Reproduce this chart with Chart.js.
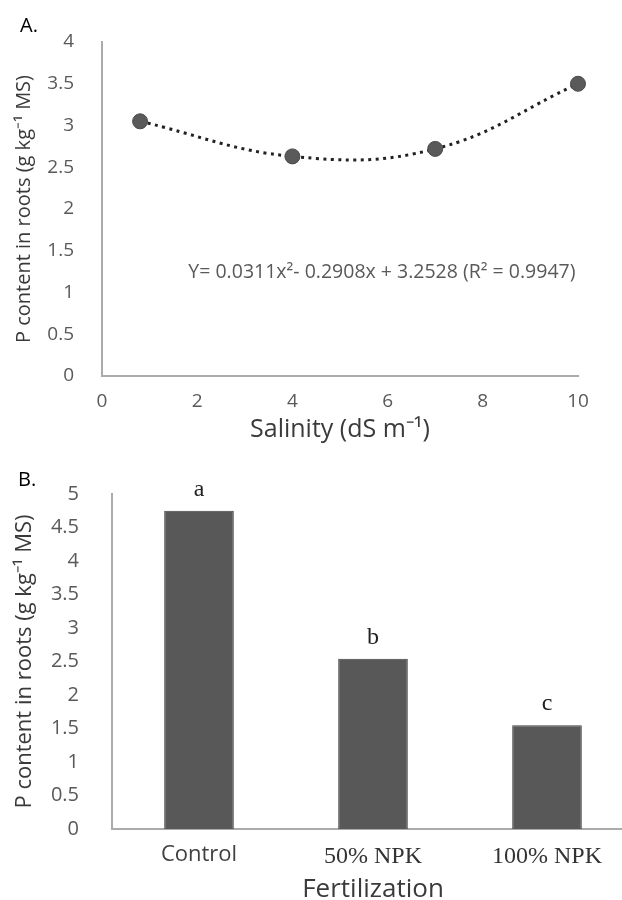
<!DOCTYPE html>
<html>
<head>
<meta charset="utf-8">
<script src="https://cdn.jsdelivr.net/npm/chart.js@4"></script>
<style>
  body { margin: 0; background: #fff; }
  .page { position: relative; width: 622px; height: 900px; overflow: hidden; }
  .page canvas { position: absolute; left: 0; }
  #chartA { top: 0; }
  #chartB { top: 450px; }
  .panel-tag { position: absolute; font: 20px 'Open Sans', sans-serif; line-height: 20px; color: #000; }
</style>
</head>
<body>
<div class="page">
  <canvas id="chartA" width="622" height="450"></canvas>
  <canvas id="chartB" width="634" height="450"></canvas>
  <div class="panel-tag" style="left:20px; top:15px;">A.</div>
  <div class="panel-tag" style="left:18px; top:469px;">B.</div>
</div>
<script>
  // Panel A - salinity
  const salinity = [0.8, 4, 7, 10];
  const pRootsA = [3.05, 2.63, 2.72, 3.5];
  const xTicksA = [0, 2, 4, 6, 8, 10];
  const yTicksA = [0, 0.5, 1, 1.5, 2, 2.5, 3, 3.5, 4];
  const equationA = 'Y= 0.0311x²- 0.2908x + 3.2528 (R² = 0.9947)';

  // Panel B - fertilization
  const fertilization = ['Control', '50% NPK', '100% NPK'];
  const pRootsB = [4.75, 2.54, 1.55];
  const groupLetters = ['a', 'b', 'c'];
  const yTicksB = [0, 0.5, 1, 1.5, 2, 2.5, 3, 3.5, 4, 4.5, 5];

  Chart.defaults.font.family = "'Open Sans', sans-serif";
  Chart.defaults.color = '#595959';

  const axisGray = '#ababab';

  // Set ticks from a list of values
  function useTicks(list) {
    return function (scale) {
      scale.ticks = list.map(function (v) { return { value: v }; });
    };
  }

  // Plain number labels (4 not 4.0)
  function plainLabel(v) {
    return String(v);
  }

  // Regression equation written inside panel A
  const equationPlugin = {
    id: 'equation',
    afterDraw(chart) {
      const ctx = chart.ctx;
      const x = chart.scales.x.getPixelForValue(5.88);
      const y = chart.scales.y.getPixelForValue(1.245);
      ctx.save();
      ctx.font = "19.5px 'Open Sans', sans-serif";
      ctx.fillStyle = '#595959';
      ctx.textAlign = 'center';
      ctx.textBaseline = 'middle';
      ctx.fillText(equationA, x, y);
      ctx.restore();
    }
  };

  // Letters of mean separation above each bar
  const lettersPlugin = {
    id: 'letters',
    afterDatasetsDraw(chart) {
      const ctx = chart.ctx;
      const bars = chart.getDatasetMeta(0).data;
      ctx.save();
      ctx.font = "24px 'Liberation Serif', serif";
      ctx.fillStyle = '#222';
      ctx.textAlign = 'center';
      ctx.textBaseline = 'alphabetic';
      bars.forEach(function (bar, i) {
        ctx.fillText(groupLetters[i], bar.x, bar.y - 15);
      });
      ctx.restore();
    }
  };

  const yTitle = 'P content in roots (g kg⁻¹ MS)';

  new Chart(document.getElementById('chartA'), {
    type: 'scatter',
    data: {
      datasets: [{
        data: salinity.map(function (s, i) { return { x: s, y: pRootsA[i] }; }),
        showLine: true,
        tension: 0.4,
        clip: false,
        borderColor: '#222',
        borderWidth: 3,
        borderDash: [3, 4.5],
        pointRadius: 7.5,
        pointBackgroundColor: '#5a5a5a',
        pointBorderColor: '#4a4a4a',
        pointBorderWidth: 1
      }]
    },
    options: {
      responsive: false,
      animation: false,
      layout: { padding: { top: 42, right: 44, left: 0, bottom: 0 } },
      plugins: { legend: { display: false }, tooltip: { enabled: false } },
      scales: {
        x: {
          type: 'linear',
          min: 0, max: 10,
          afterBuildTicks: useTicks(xTicksA),
          afterFit: function (s) { s.height = 74; },
          grid: { display: false },
          border: { display: true, color: axisGray, width: 2 },
          ticks: { padding: 6, font: { size: 19 }, maxRotation: 0, callback: plainLabel },
          title: {
            display: true, text: 'Salinity (dS m⁻¹)', color: '#3a3a3a',
            font: { size: 25 }, padding: { top: 0, bottom: 5 }
          }
        },
        y: {
          min: 0, max: 4,
          afterBuildTicks: useTicks(yTicksA),
          afterFit: function (s) { s.width = 102; },
          grid: { display: false },
          border: { display: true, color: axisGray, width: 2 },
          ticks: { padding: 20, font: { size: 19 }, callback: plainLabel },
          title: {
            display: true, text: yTitle, color: '#3a3a3a',
            font: { size: 20 }, padding: { top: 12, bottom: 0 }
          }
        }
      }
    },
    plugins: [equationPlugin]
  });

  new Chart(document.getElementById('chartB'), {
    type: 'bar',
    data: {
      labels: fertilization,
      datasets: [{
        data: pRootsB,
        backgroundColor: '#585858',
        borderColor: '#404040',
        borderWidth: 1,
        barPercentage: 0.4,
        categoryPercentage: 1
      }]
    },
    options: {
      responsive: false,
      animation: false,
      layout: { padding: { top: 44, right: 0, left: 0, bottom: 0 } },
      plugins: { legend: { display: false }, tooltip: { enabled: false } },
      scales: {
        x: {
          afterFit: function (s) { s.height = 71; },
          grid: { display: false },
          border: { display: true, color: axisGray, width: 2 },
          ticks: {
            padding: 5,
            maxRotation: 0,
            color: function (c) { return c.index === 0 ? '#404040' : '#333'; },
            font: function (c) {
              return c.index === 0
                ? { family: "'Open Sans', sans-serif", size: 22 }
                : { family: "'Liberation Serif', serif", size: 24 };
            }
          },
          title: {
            display: true, text: 'Fertilization', color: '#3a3a3a',
            font: { size: 26 }, padding: { top: 0, bottom: -5 }
          }
        },
        y: {
          min: 0, max: 5,
          afterBuildTicks: useTicks(yTicksB),
          afterFit: function (s) { s.width = 112; },
          grid: { display: false },
          border: { display: true, color: axisGray, width: 2 },
          ticks: { padding: 25, font: { size: 20 }, callback: plainLabel },
          title: {
            display: true, text: yTitle, color: '#3a3a3a',
            font: { size: 22 }, padding: { top: 12, bottom: 0 }
          }
        }
      }
    },
    plugins: [lettersPlugin]
  });
</script>
</body>
</html>
